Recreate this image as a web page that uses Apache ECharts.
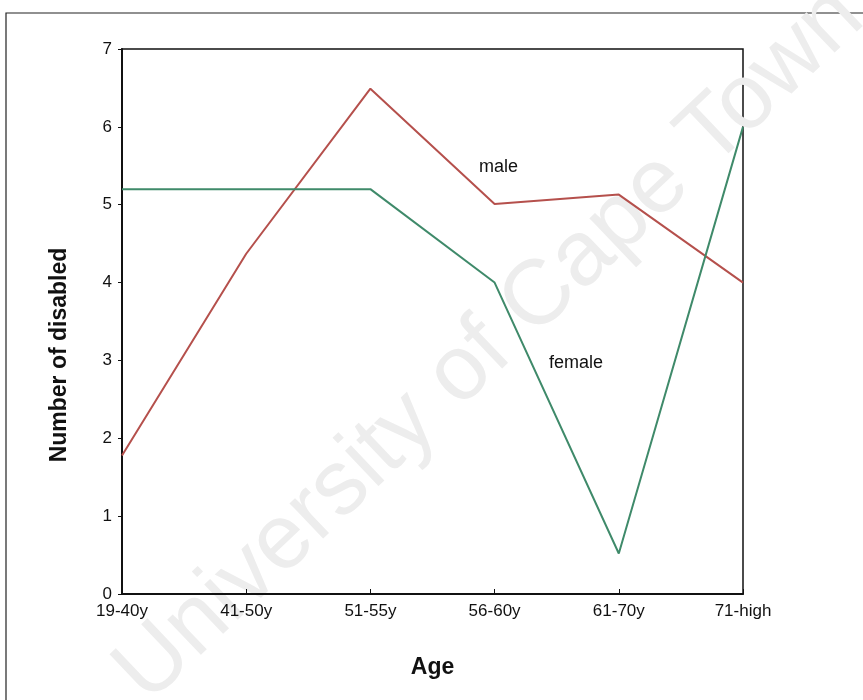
<!DOCTYPE html>
<html>
<head>
<meta charset="utf-8">
<script src="https://cdn.jsdelivr.net/npm/echarts@6/dist/echarts.min.js"></script>
<style>html,body{margin:0;padding:0;background:#fff;}#c{width:863px;height:700px;}</style>
</head>
<body>
<div id="c"></div>
<script>
const categories = ['19-40y', '41-50y', '51-55y', '56-60y', '61-70y', '71-high'];
const maleValues = [1.78, 4.37, 6.49, 5.01, 5.13, 4.0];
const femaleValues = [5.2, 5.2, 5.2, 4.0, 0.52, 6.0];
const yTicks = [0, 1, 2, 3, 4, 5, 6, 7];

const chart = echarts.init(document.getElementById('c'));
const font = 'Liberation Sans, Arial, sans-serif';
chart.setOption({
  backgroundColor: '#fff',
  animation: false,
  grid: { left: 122, right: 120, top: 49, bottom: 106, show: true, borderColor: '#111', borderWidth: 1.5, backgroundColor: 'transparent' },
  xAxis: {
    type: 'category', data: categories, boundaryGap: false,
    axisLine: { lineStyle: { color: '#111', width: 2 } },
    axisTick: { show: true, inside: true, length: 5, lineStyle: { color: '#111' } },
    axisLabel: { color: '#111', fontSize: 17, fontFamily: font, margin: 9 },
    splitLine: { show: false },
    name: 'Age', nameLocation: 'middle', nameGap: 62,
    nameTextStyle: { fontSize: 23, fontWeight: 'bold', color: '#111', fontFamily: font }
  },
  yAxis: {
    type: 'value', min: yTicks[0], max: yTicks[yTicks.length - 1], interval: 1,
    axisLine: { show: true, lineStyle: { color: '#111', width: 2 } },
    axisTick: { show: true, length: 4, lineStyle: { color: '#111' } },
    axisLabel: { color: '#111', fontSize: 17, fontFamily: font, margin: 10 },
    splitLine: { show: false }
  },
  series: [
    { name: 'male', type: 'line', data: maleValues, symbol: 'none', z: 3,
      lineStyle: { color: '#b5504c', width: 2 } },
    { name: 'female', type: 'line', data: femaleValues, symbol: 'none', z: 3,
      lineStyle: { color: '#3f8a6a', width: 2 } }
  ],
  graphic: [
    { type: 'polyline', z: -1, silent: true, shape: { points: [[6, 700], [6, 13], [863, 13]] },
      style: { stroke: '#222', lineWidth: 1.2, fill: null } },
    { type: 'text', z: 0, silent: true, x: 490, y: 345, rotation: 0.76,
      style: { text: 'University of Cape Town', fontSize: 92, fontFamily: font, fill: '#ededed',
        textAlign: 'center', textVerticalAlign: 'middle' } },
    { type: 'text', z: 10, silent: true, x: 60, y: 355, rotation: Math.PI / 2,
      style: { text: 'Number of disabled', fontSize: 23, fontWeight: 'bold', fontFamily: font, fill: '#111',
        textAlign: 'center', textVerticalAlign: 'middle' } },
    { type: 'text', z: 10, x: 479, y: 158, style: { text: 'male', fontSize: 18, fontFamily: font, fill: '#111' } },
    { type: 'text', z: 10, x: 549, y: 354, style: { text: 'female', fontSize: 18, fontFamily: font, fill: '#111' } }
  ]
});
</script>
</body>
</html>
